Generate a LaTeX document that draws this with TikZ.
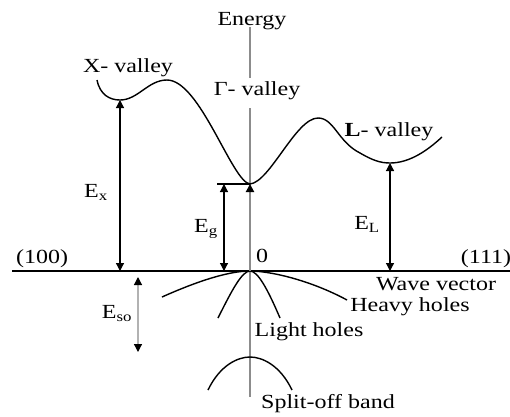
\documentclass[tikz,border=0pt]{standalone}
\usepackage{fontspec}
\setmainfont{Liberation Serif}[FakeStretch=1.2]
\usetikzlibrary{arrows.meta}
\begin{document}
\begin{tikzpicture}[x=1pt,y=-1pt,
  lbl/.style={inner sep=0pt,anchor=base,font=\fontsize{20}{24}\selectfont},
  curve/.style={line width=1.4pt},
  dimarrow/.style={line width=1.2pt,{Triangle[width=8pt,length=8pt]}-{Triangle[width=8pt,length=8pt]}},
  vaxis/.style={line width=2.4pt,draw=black!45},
  haxis/.style={line width=1.5pt}]
\useasboundingbox (0,0) rectangle (510,416);
% labels
\node[lbl] (energy) at (252,25) {Energy};
\node[lbl] (gval) at (257,95) {Γ- valley};
\node[lbl] (xval) at (128,72) {X- valley};
\node[lbl] (lval) at (389,136) {\textbf{L}- valley};
\node[lbl] (l100) at (42,263) {(100)};
\node[lbl] (l111) at (486,263) {(111)};
\node[lbl] (zero) at (262,262) {0};
\node[lbl] (wave) at (436,290) {Wave vector};
\node[lbl] (heavy) at (410,311) {Heavy holes};
\node[lbl] (light) at (309,336) {Light holes};
\node[lbl] (split) at (328,408) {Split-off band};
\node[lbl] (ex) at (96,197) {E\textsubscript{x}};
\node[lbl] (eg) at (206,232) {E\textsubscript{g}};
\node[lbl] (el) at (367,229) {E\textsubscript{L}};
\node[lbl] (eso) at (117,318) {E\textsubscript{so}};
% key points
\coordinate (atop) at (250,27);
\coordinate (agap) at (250,78);
\coordinate (agap2) at (250,108);
\coordinate (abot) at (250,397);
\coordinate (hl) at (12,271);
\coordinate (hr) at (510,271);
\coordinate (O) at (250,271);
\coordinate (Xmin) at (120,100);
\coordinate (Xbase) at (120,271);
\coordinate (Gmin) at (250,184);
\coordinate (Gleft) at (217,184);
\coordinate (Egtop) at (224,184);
\coordinate (Egbot) at (224,271);
\coordinate (Lmin) at (390,163);
\coordinate (Lbase) at (390,271);
\coordinate (SOtop) at (138,277);
\coordinate (SObot) at (138,352);
% axes
\draw[vaxis] (atop) -- (agap);
\draw[vaxis] (agap2) -- (abot);
\draw[haxis] (hl) -- (hr);
% conduction band
\draw[curve] (97,80) .. controls (100,95) and (110,100) .. (Xmin)
  .. controls (138,100) and (148,80) .. (167,80)
  .. controls (200,80) and (232,182) .. (Gmin)
  .. controls (270,182) and (296,118) .. (318,118)
  .. controls (334,118) and (338,142) .. (360,153)
  .. controls (372,160) and (380,163) .. (Lmin)
  .. controls (410,163) and (428,150) .. (442,137);
% valence bands
\draw[curve] (162,297) .. controls (200,280) and (230,271) .. (O)
  .. controls (270,271) and (310,280) .. (347,300);
\draw[curve] (218,318) .. controls (232,290) and (242,271) .. (O)
  .. controls (258,271) and (268,290) .. (280,318);
\draw[curve] (208,390) .. controls (220,365) and (238,357) .. (250,357)
  .. controls (262,357) and (280,365) .. (292,390);
% energy gaps
\draw[dimarrow] (Xmin) -- (Xbase);
\draw[line width=1.2pt] (Gleft) -- (Gmin);
\draw[dimarrow] (Egtop) -- (Egbot);
\draw[dimarrow] (Lmin) -- (Lbase);
\draw[line width=2.4pt,draw=black!45,-{Triangle[width=8pt,length=8pt,color=black]}] (O) -- (Gmin);
\draw[line width=1.2pt,draw=black!30,{Triangle[width=8pt,length=8pt,color=black]}-{Triangle[width=8pt,length=8pt,color=black]}] (SOtop) -- (SObot);
\end{tikzpicture}
\end{document}
